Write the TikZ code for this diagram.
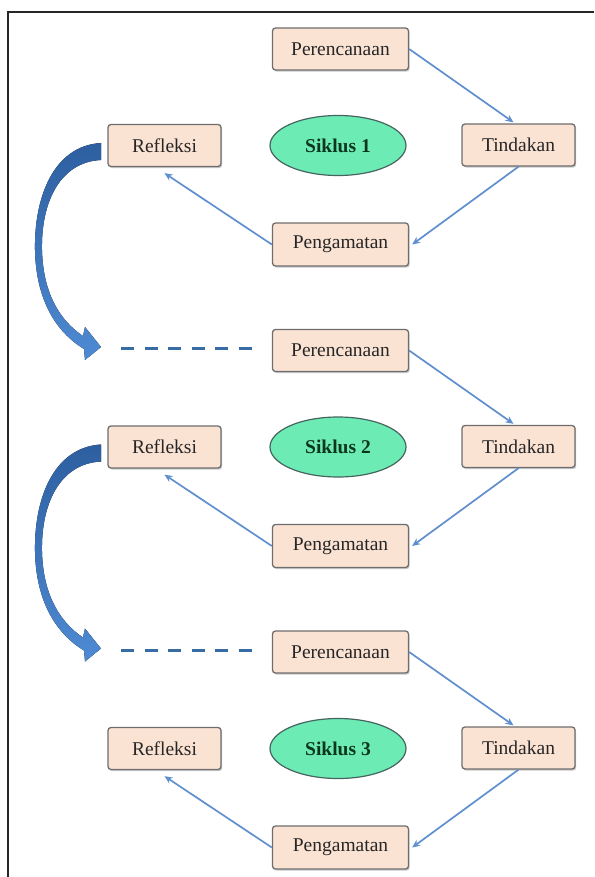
\documentclass[tikz,border=0pt]{standalone}
\usepackage{fontspec}
\setmainfont{Liberation Serif}
\usetikzlibrary{shapes.geometric,arrows.meta,shadows}
\definecolor{boxfill}{RGB}{251,227,212}
\definecolor{boxline}{RGB}{110,110,110}
\definecolor{ellfill}{RGB}{108,236,180}
\definecolor{ellline}{RGB}{70,100,96}
\definecolor{flowcol}{RGB}{95,143,207}
\definecolor{bigtop}{RGB}{45,95,160}
\definecolor{bigbot}{RGB}{78,138,212}
\definecolor{dashcol}{RGB}{55,108,165}
\definecolor{sikluscol}{RGB}{12,55,30}
\begin{document}
\begin{tikzpicture}[x=1pt,y=-1pt,
  stagebox/.style={draw=boxline, line width=1.3pt, fill=boxfill, rounded corners=3pt,
    minimum height=42pt, inner sep=0pt, font=\fontsize{19.5}{20}\selectfont, text=black!85,
    drop shadow={shadow xshift=1.2pt, shadow yshift=-1.6pt, opacity=0.35, fill=black!60}},
  cyclebox/.style={ellipse, draw=ellline, line width=1.2pt, fill=ellfill, minimum width=136pt,
    minimum height=60pt, inner sep=0pt, font=\bfseries\fontsize{19.5}{20}\selectfont, text=sikluscol},
  flow/.style={draw=flowcol, line width=1.7pt, -{Stealth[length=8pt,width=7pt]}},
  bigarrow/.style={top color=bigtop, bottom color=bigbot, draw=none},
  linkdash/.style={draw=dashcol, line width=3pt, dash pattern=on 13pt off 10.5pt}
]
\useasboundingbox (0,0) rectangle (594,877);
\fill[white] (0,0) rectangle (594,877);
\draw[line width=1.5pt, black!85] (8,877) -- (8,12) -- (594,12);

\foreach \k/\o in {1/0, 2/301.5, 3/603} {
  \begin{scope}[shift={(0,\o)}]
    \node[stagebox, minimum width=136pt] (p\k) at (340.5,49) {Perencanaan};
    \node[stagebox, minimum width=113pt] (r\k) at (164.5,145.5) {Refleksi};
    \node[cyclebox] (s\k) at (338,145.5) {Siklus \k};
    \node[stagebox, minimum width=113pt] (t\k) at (518.5,145) {Tindakan};
    \node[stagebox, minimum width=136pt, minimum height=43pt] (g\k) at (340.5,244.5) {Pengamatan};
    \draw[flow] (p\k.east) -- ([xshift=-5pt,yshift=1pt]t\k.north);
    \draw[flow] (t\k.south) -- ([xshift=3pt]g\k.east);
    \draw[flow] (g\k.west) -- ([yshift=-6pt]r\k.south);
  \end{scope}
}

% curved transition arrows
\foreach \o in {0, 301.5} {
  \begin{scope}[shift={(0,\o)}]
    \fill[bigarrow] (101,143)
      .. controls (52,146) and (34,200) .. (35,250)
      .. controls (36,300) and (56,332) .. (84,349)
      -- (85,360) -- (101,347) -- (85,327) -- (83,336)
      .. controls (59,320) and (43,292) .. (42,250)
      .. controls (41,202) and (60,162) .. (101,160) -- cycle;
  \end{scope}
}

% dashed links
\coordinate (d2) at (121,348);
\coordinate (d3) at (121,650);
\draw[linkdash] (d2) -- ([xshift=-20pt]d2 -| p2.west);
\draw[linkdash] (d3) -- ([xshift=-20pt]d3 -| p3.west);
\end{tikzpicture}
\end{document}
